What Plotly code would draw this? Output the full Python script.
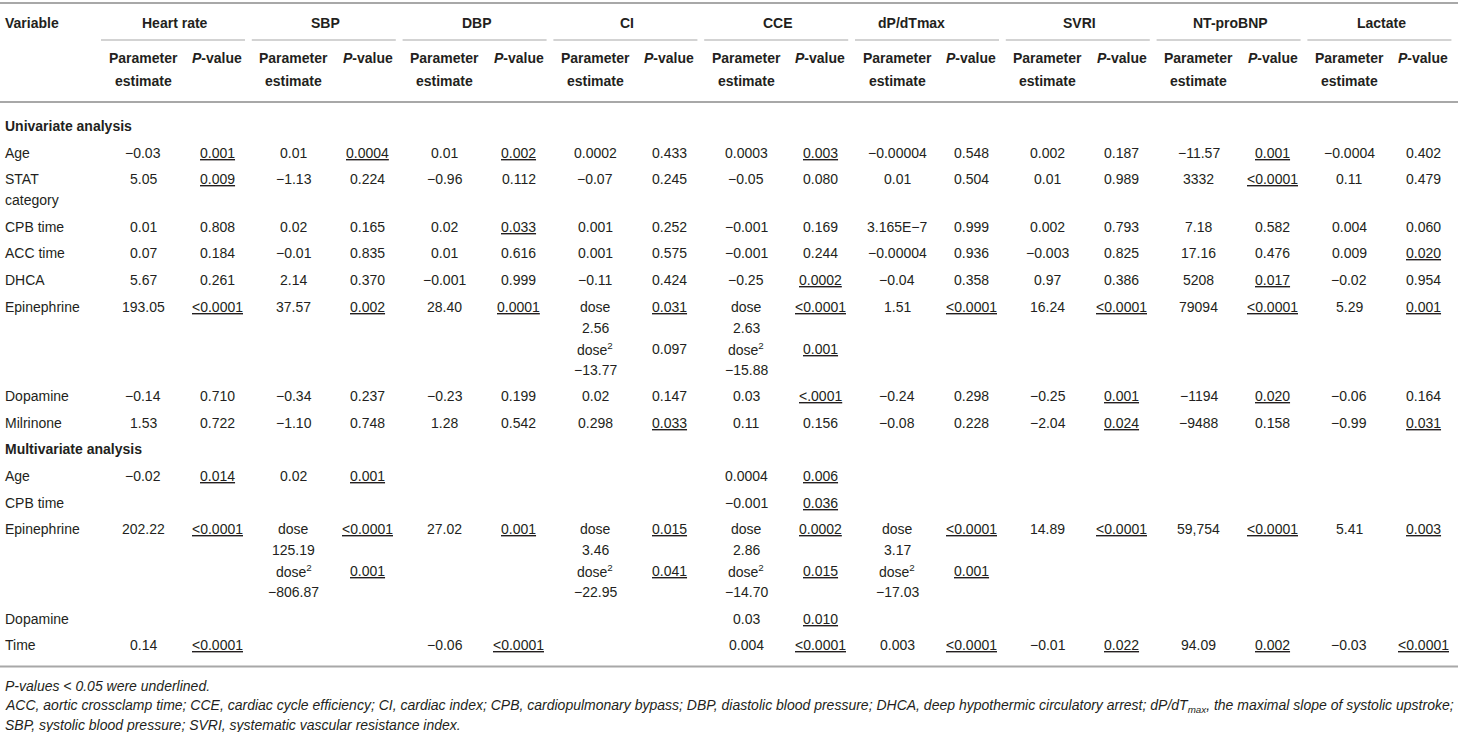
import plotly.graph_objects as go

# ---- table content ----
outcomes = ["Heart rate", "SBP", "DBP", "CI", "CCE", "dP/dTmax", "SVRI", "NT-proBNP", "Lactate"]

uni_vars = ["Age", "STAT<br>category", "CPB time", "ACC time", "DHCA", "Epinephrine", "Dopamine", "Milrinone"]
uni_est = [
    ["−0.03", "0.01", "0.01", "0.0002", "0.0003", "−0.00004", "0.002", "−11.57", "−0.0004"],
    ["5.05", "−1.13", "−0.96", "−0.07", "−0.05", "0.01", "0.01", "3332", "0.11"],
    ["0.01", "0.02", "0.02", "0.001", "−0.001", "3.165E−7", "0.002", "7.18", "0.004"],
    ["0.07", "−0.01", "0.01", "0.001", "−0.001", "−0.00004", "−0.003", "17.16", "0.009"],
    ["5.67", "2.14", "−0.001", "−0.11", "−0.25", "−0.04", "0.97", "5208", "−0.02"],
    ["193.05", "37.57", "28.40", ("2.56", "−13.77"), ("2.63", "−15.88"), "1.51", "16.24", "79094", "5.29"],
    ["−0.14", "−0.34", "−0.23", "0.02", "0.03", "−0.24", "−0.25", "−1194", "−0.06"],
    ["1.53", "−1.10", "1.28", "0.298", "0.11", "−0.08", "−2.04", "−9488", "−0.99"],
]
uni_p = [
    ["0.001", "0.0004", "0.002", "0.433", "0.003", "0.548", "0.187", "0.001", "0.402"],
    ["0.009", "0.224", "0.112", "0.245", "0.080", "0.504", "0.989", "<0.0001", "0.479"],
    ["0.808", "0.165", "0.033", "0.252", "0.169", "0.999", "0.793", "0.582", "0.060"],
    ["0.184", "0.835", "0.616", "0.575", "0.244", "0.936", "0.825", "0.476", "0.020"],
    ["0.261", "0.370", "0.999", "0.424", "0.0002", "0.358", "0.386", "0.017", "0.954"],
    ["<0.0001", "0.002", "0.0001", ("0.031", "0.097"), ("<0.0001", "0.001"), "<0.0001", "<0.0001", "<0.0001", "0.001"],
    ["0.710", "0.237", "0.199", "0.147", "<.0001", "0.298", "0.001", "0.020", "0.164"],
    ["0.722", "0.748", "0.542", "0.033", "0.156", "0.228", "0.024", "0.158", "0.031"],
]

multi_vars = ["Age", "CPB time", "Epinephrine", "Dopamine", "Time"]
multi_est = [
    ["−0.02", "0.02", "", "", "0.0004", "", "", "", ""],
    ["", "", "", "", "−0.001", "", "", "", ""],
    ["202.22", ("125.19", "−806.87"), "27.02", ("3.46", "−22.95"), ("2.86", "−14.70"), ("3.17", "−17.03"), "14.89", "59,754", "5.41"],
    ["", "", "", "", "0.03", "", "", "", ""],
    ["0.14", "", "−0.06", "", "0.004", "0.003", "−0.01", "94.09", "−0.03"],
]
multi_p = [
    ["0.014", "0.001", "", "", "0.006", "", "", "", ""],
    ["", "", "", "", "0.036", "", "", "", ""],
    ["<0.0001", ("<0.0001", "0.001"), "0.001", ("0.015", "0.041"), ("0.0002", "0.015"), ("<0.0001", "0.001"), "<0.0001", "<0.0001", "0.003"],
    ["", "", "", "", "0.010", "", "", "", ""],
    ["<0.0001", "", "<0.0001", "", "<0.0001", "<0.0001", "0.022", "0.002", "<0.0001"],
]

footnotes = [
    "P-values &lt; 0.05 were underlined.",
    "ACC, aortic crossclamp time; CCE, cardiac cycle efficiency; CI, cardiac index; CPB, cardiopulmonary bypass; "
    "DBP, diastolic blood pressure; DHCA, deep hypothermic circulatory arrest; dP/dT<sub>max</sub>, "
    "the maximal slope of systolic upstroke;",
    "SBP, systolic blood pressure; SVRI, systematic vascular resistance index.",
]

# ---- layout constants ----
W, H = 1458, 732
TXT = "#231f20"
RULE = "#a8a8a8"
FONT = "Liberation Sans, Arial, sans-serif"
SIZE = 14
LEFT = 3
G0, GW = 101, 150.8
EST_DX, P_DX, HEAD_DX = 42, 116, 74
ROW_H, LINE_H = 26.6, 21

fig = go.Figure()


def text(x, y, s, anchor="center", size=SIZE, family=FONT):
    fig.add_annotation(x=x, y=y, text=s, xref="x", yref="y", xanchor=anchor, yanchor="middle",
                       showarrow=False, font=dict(family=family, size=size, color=TXT))


def rule(x0, x1, y, width=2, color=RULE):
    fig.add_shape(type="line", x0=x0, x1=x1, y0=y, y1=y, xref="x", yref="y",
                  line=dict(color=color, width=width))


def p_fmt(p):
    if not p:
        return ""
    s = p.replace("<", "&lt;")
    if float(p.lstrip("<")) < 0.05:
        s = "<u>" + s + "</u>"
    return s


# header
rule(0, W, 3)
text(LEFT, 23, "<b>Variable</b>", "left")
for j, name in enumerate(outcomes):
    g = G0 + j * GW
    shift = -18 if name == "dP/dTmax" else 0
    text(g + HEAD_DX + shift, 23, "<b>" + name + "</b>")
    rule(g, g + 144, 40, width=1.5, color="#c4c4c4")
    text(g + EST_DX, 58, "<b>Parameter</b>")
    text(g + EST_DX, 81, "<b>estimate</b>")
    text(g + P_DX, 58, "<b><i>P</i>-value</b>")
rule(0, W, 102)

# body
y = 126
sections = [("Univariate analysis", uni_vars, uni_est, uni_p),
            ("Multivariate analysis", multi_vars, multi_est, multi_p)]
for title, names, est, pv in sections:
    text(LEFT, y, "<b>" + title + "</b>", "left")
    y += ROW_H
    for name, e_row, p_row in zip(names, est, pv):
        label = name.split("<br>")
        n = len(label)
        for k, line in enumerate(label):
            text(LEFT, y + k * LINE_H, line, "left")
        for j in range(len(outcomes)):
            g = G0 + j * GW
            e, p = e_row[j], p_row[j]
            if isinstance(e, tuple):
                e_lines = ["dose", e[0], "dose<sup>2</sup>", e[1]]
                p_lines = [p[0], "", p[1], ""]
            else:
                e_lines, p_lines = [e], [p]
            n = max(n, len(e_lines))
            for k, s in enumerate(e_lines):
                if s:
                    text(g + EST_DX, y + k * LINE_H, s)
            for k, s in enumerate(p_lines):
                if s:
                    text(g + P_DX, y + k * LINE_H, p_fmt(s))
        last = y
        y += ROW_H + (n - 1) * LINE_H

bottom = last + 21
rule(0, W, bottom)

for k, line in enumerate(footnotes):
    text(LEFT, bottom + 20 + k * 19.5, "<i>" + line + "</i>", "left", size=14)

fig.update_xaxes(range=[0, W], visible=False, fixedrange=True)
fig.update_yaxes(range=[H, 0], visible=False, fixedrange=True)
fig.update_layout(width=W, height=H, margin=dict(l=0, r=0, t=0, b=0),
                  paper_bgcolor="white", plot_bgcolor="white", showlegend=False)

fig.write_html("out.html", config={"displayModeBar": False},
               post_script="document.body.style.margin='0';")
